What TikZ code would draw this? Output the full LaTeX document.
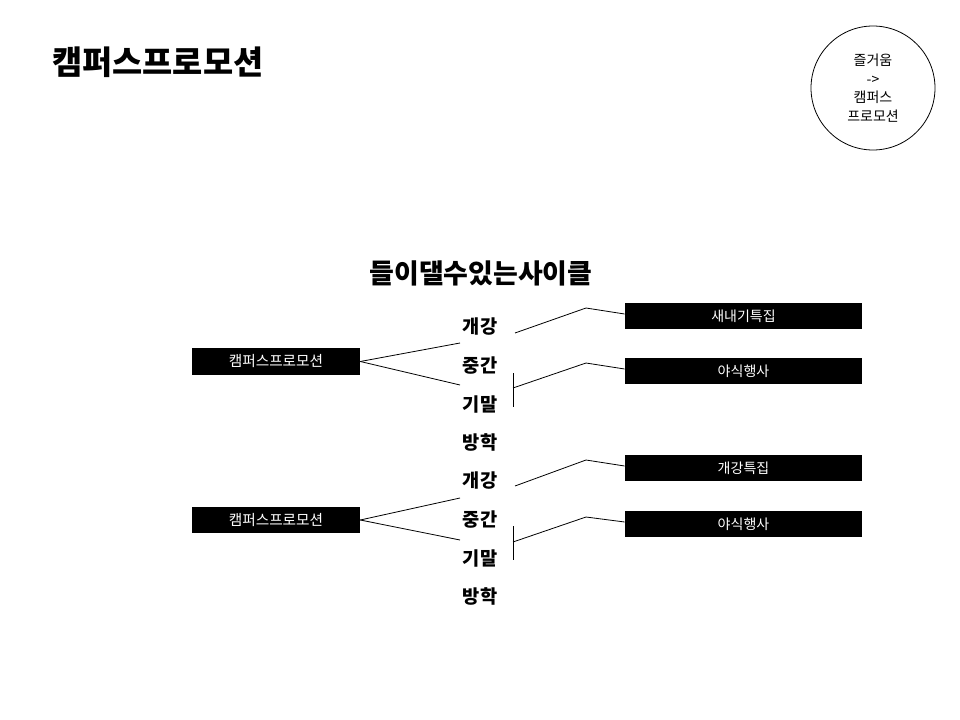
\documentclass[tikz,border=0pt]{standalone}
\usepackage{fontspec}
\setmainfont{Noto Sans CJK KR}
\usetikzlibrary{positioning, calc}
\tikzset{
  tag/.style={fill=black, text=white, inner sep=0pt, font=\fontsize{11}{12}\selectfont},
  campus/.style={tag, minimum width=126pt, minimum height=20pt},
  event/.style={tag, minimum width=178pt, minimum height=19.5pt, font=\fontsize{10.5}{12}\selectfont},
  term/.style={font=\bfseries\fontsize{14}{16}\selectfont, inner sep=0pt},
  link/.style={line width=0.6pt},
}
\begin{document}
\begin{tikzpicture}[x=0.75pt, y=-0.75pt]
  \useasboundingbox (0,0) rectangle (960,720);
  % title and circle
  \node[anchor=west, inner sep=0pt, font=\bfseries\fontsize{24.6}{28}\selectfont] (title) at (52,62) {캠퍼스프로모션};
  \node[draw, circle, line width=0.6pt, minimum size=93pt, inner sep=0pt, align=center,
        font=\fontsize{10.5}{14}\selectfont] (goal) at (873,88) {즐거움\\->\\캠퍼스\\프로모션};
  \node[font=\bfseries\fontsize{20.2}{24}\selectfont, inner sep=0pt] (cycle) at (481,273) {들이댈수있는사이클};

  % terms
  \foreach \t [count=\i from 0] in {개강, 중간, 기말, 방학, 개강, 중간, 기말, 방학}
    \node[term] (t\i) at (480,{327+38.5*\i}) {\t};

  % campus promotion boxes
  \node[campus] (c1) at (276,361.5) {캠퍼스프로모션};
  \node[campus] (c2) at (276,520) {캠퍼스프로모션};

  % event boxes
  \node[event] (e1) at (743.5,316) {새내기특집};
  \node[event] (e2) at (743.5,371) {야식행사};
  \node[event] (e3) at (743.5,468) {개강특집};
  \node[event] (e4) at (743.5,524) {야식행사};

  % link points
  \coordinate (u1) at (460,343);   \coordinate (d1) at (460,385);
  \coordinate (u2) at (460,498);   \coordinate (d2) at (460,540);
  \coordinate (s1) at (515,333);   \coordinate (k1) at (586,308);
  \coordinate (s2) at (513,388);   \coordinate (k2) at (586,363);
  \coordinate (s3) at (515,486);   \coordinate (k3) at (586,460);
  \coordinate (s4) at (513,542);   \coordinate (k4) at (586,517);
  \coordinate (v2a) at (513,373);  \coordinate (v2b) at (513,407);
  \coordinate (v4a) at (513,526);  \coordinate (v4b) at (513,560);

  \foreach \c/\a/\b in {c1/u1/d1, c2/u2/d2} {
    \draw[link] (\c.east) -- (\a);
    \draw[link] (\c.east) -- (\b);
  }
  \foreach \s/\k/\e in {s1/k1/e1, s2/k2/e2, s3/k3/e3, s4/k4/e4}
    \draw[link] (\s) -- (\k) -- ([yshift=1.5pt]\e.west);
  \draw[link] (v2a) -- (v2b);
  \draw[link] (v4a) -- (v4b);
\end{tikzpicture}
\end{document}
